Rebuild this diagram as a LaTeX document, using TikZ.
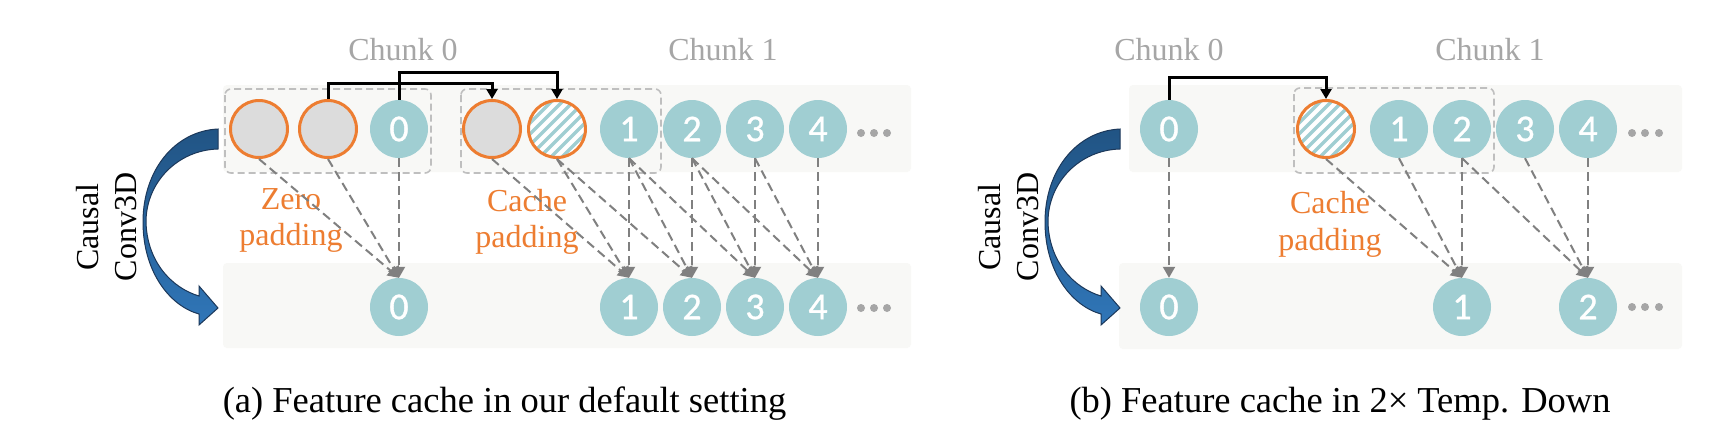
\documentclass[tikz,border=0pt]{standalone}
\usepackage{fontspec}
\setmainfont{Liberation Serif}
\newfontfamily\digitfont[FakeBold=0.8]{Carlito}
\usetikzlibrary{arrows.meta}
\definecolor{tealc}{RGB}{160,206,210}
\definecolor{orangec}{RGB}{237,125,49}
\definecolor{grayfill}{RGB}{220,220,220}
\definecolor{bandc}{RGB}{248,248,246}
\definecolor{boxc}{RGB}{191,191,191}
\definecolor{linec}{RGB}{128,128,128}
\definecolor{chunkc}{RGB}{166,166,166}
\definecolor{arrowtop}{RGB}{33,84,132}
\definecolor{arrowbot}{RGB}{48,118,184}
\definecolor{arrowedge}{RGB}{28,56,90}
\tikzset{
  feat/.style={circle, fill=tealc, minimum size=58pt, inner sep=0pt, text=white,
    font=\digitfont\fontsize{38}{38}\selectfont},
  pad/.style={circle, fill=grayfill, draw=orangec, line width=3pt, minimum size=57pt, inner sep=0pt},
  cachepad/.style={circle, fill=white, draw=orangec, line width=3pt, minimum size=57pt, inner sep=0pt,
    path picture={\foreach \k in {-44,-33,...,44}{
      \draw[tealc, line width=3.5pt] ([shift={(\k-40,40)}]path picture bounding box.center)
        -- ([shift={(\k+40,-40)}]path picture bounding box.center);}}},
  band/.style={fill=bandc, rounded corners=4pt},
  chunkbox/.style={draw=boxc, line width=1.6pt, dash pattern=on 7pt off 4pt, rounded corners=6pt},
  dep/.style={draw=linec, line width=2pt, dash pattern=on 9pt off 5pt,
    -{Triangle[length=11pt,width=12pt]}},
  cacheflow/.style={draw=black, line width=3pt, -{Triangle[length=10pt,width=11pt]}},
  chunklabel/.style={text=chunkc, font=\fontsize{32}{38}\selectfont, anchor=base, inner sep=0pt},
  padlabel/.style={text=orangec, font=\fontsize{32}{36}\selectfont, align=center, anchor=north, inner sep=0pt},
  captionlabel/.style={font=\fontsize{36.5}{40}\selectfont, anchor=base, inner sep=0pt},
  convlabel/.style={font=\fontsize{32}{38}\selectfont, align=center, rotate=90, inner sep=0pt},
  dotc/.style={fill=chunkc},
  convarrow/.style={top color=arrowtop, bottom color=arrowbot, draw=arrowedge, line width=1pt},
}
\newcommand{\convarrowpath}{(218,129) .. controls (175,131) and (143,170) .. (143,222)
  .. controls (143,272) and (170,306) .. (199,314) -- (199,325) -- (218,308) -- (199,286) -- (199,296)
  .. controls (172,288) and (147,262) .. (146,222) .. controls (146,182) and (178,150) .. (218,149) -- cycle}
\begin{document}
\begin{tikzpicture}[x=1pt,y=-1pt]
\useasboundingbox (0,0) rectangle (1714,440);
\fill[white] (0,0) rectangle (1714,440);

% ---------------- (a) ----------------
\fill[band] (223,85) rectangle (911,172);
\fill[band] (223,263) rectangle (911,348);
\draw[chunkbox] (225,89) rectangle (431,173);
\draw[chunkbox] (461,89) rectangle (661,173);

\node[pad] (az1) at (259,129) {};
\node[pad] (az2) at (328,129) {};
\node[feat] (at0) at (399,129) {0};
\node[pad] (ac1) at (492,129) {};
\node[cachepad] (ac2) at (557,129) {};
\node[feat] (at1) at (629,129) {1};
\node[feat] (at2) at (692,129) {2};
\node[feat] (at3) at (755,129) {3};
\node[feat] (at4) at (818,129) {4};

\node[feat] (ab0) at (399,307) {0};
\node[feat] (ab1) at (629,307) {1};
\node[feat] (ab2) at (692,307) {2};
\node[feat] (ab3) at (755,307) {3};
\node[feat] (ab4) at (818,307) {4};

\foreach \xx in {861,874,887}{\fill[dotc] (\xx,133) circle (4pt); \fill[dotc] (\xx,308) circle (4pt);}

\node[padlabel] (azl) at (291,188) {Zero\\padding};
\node[padlabel] (acl) at (527,189) {Cache\\padding};

\draw[dep] (az1.south) -- (ab0.north);
\draw[dep] (az2.south) -- (ab0.north);
\draw[dep] (at0.south) -- (ab0.north);
\draw[dep] (ac1.south) -- (ab1.north);
\draw[dep] (ac2.south) -- (ab1.north);
\draw[dep] (at1.south) -- (ab1.north);
\draw[dep] (ac2.south) -- (ab2.north);
\draw[dep] (at1.south) -- (ab2.north);
\draw[dep] (at2.south) -- (ab2.north);
\draw[dep] (at1.south) -- (ab3.north);
\draw[dep] (at2.south) -- (ab3.north);
\draw[dep] (at3.south) -- (ab3.north);
\draw[dep] (at2.south) -- (ab4.north);
\draw[dep] (at3.south) -- (ab4.north);
\draw[dep] (at4.south) -- (ab4.north);

\draw[cacheflow] (az2.north) -- ++(0,-16) -| (ac1.north);
\draw[cacheflow] (at0.north) -- ++(0,-27) -| (ac2.north);

\node[chunklabel] (ach0) at (403,60) {Chunk 0};
\node[chunklabel] (ach1) at (723,60) {Chunk 1};

\path[convarrow] \convarrowpath;
\node[convlabel] (aconv) at (107,227) {Causal\\Conv3D};
\node[captionlabel] (acap) at (504.5,412) {(a) Feature cache in our default setting};

% ---------------- (b) ----------------
\fill[band] (1129,85) rectangle (1682,172);
\fill[band] (1119,263) rectangle (1682,349);
\draw[chunkbox] (1294,88) rectangle (1494,173);

\node[feat] (bt0) at (1169,129) {0};
\node[cachepad] (bc) at (1326,129) {};
\node[feat] (bt1) at (1399,129) {1};
\node[feat] (bt2) at (1462,129) {2};
\node[feat] (bt3) at (1525,129) {3};
\node[feat] (bt4) at (1588,129) {4};

\node[feat] (bb0) at (1169,307) {0};
\node[feat] (bb1) at (1462,307) {1};
\node[feat] (bb2) at (1588,307) {2};

\foreach \xx in {1632,1645,1659}{\fill[dotc] (\xx,133) circle (4pt); \fill[dotc] (\xx,307) circle (4pt);}

\node[padlabel] (bcl) at (1330,191) {Cache\\[1pt]padding};

\draw[dep] (bt0.south) -- (bb0.north);
\draw[dep] (bc.south) -- (bb1.north);
\draw[dep] (bt1.south) -- (bb1.north);
\draw[dep] (bt2.south) -- (bb1.north);
\draw[dep] (bt2.south) -- (bb2.north);
\draw[dep] (bt3.south) -- (bb2.north);
\draw[dep] (bt4.south) -- (bb2.north);

\draw[cacheflow] (bt0.north) -- ++(0,-22) -| (bc.north);

\node[chunklabel] (bch0) at (1169,60) {Chunk 0};
\node[chunklabel] (bch1) at (1490,60) {Chunk 1};

\begin{scope}[shift={(902,0)}]
\path[convarrow] \convarrowpath;
\end{scope}
\node[convlabel] (bconv) at (1009,227) {Causal\\Conv3D};
\node[captionlabel] (bcap) at (1340,412) {(b) Feature cache in 2× Temp. Down};
\end{tikzpicture}
\end{document}
